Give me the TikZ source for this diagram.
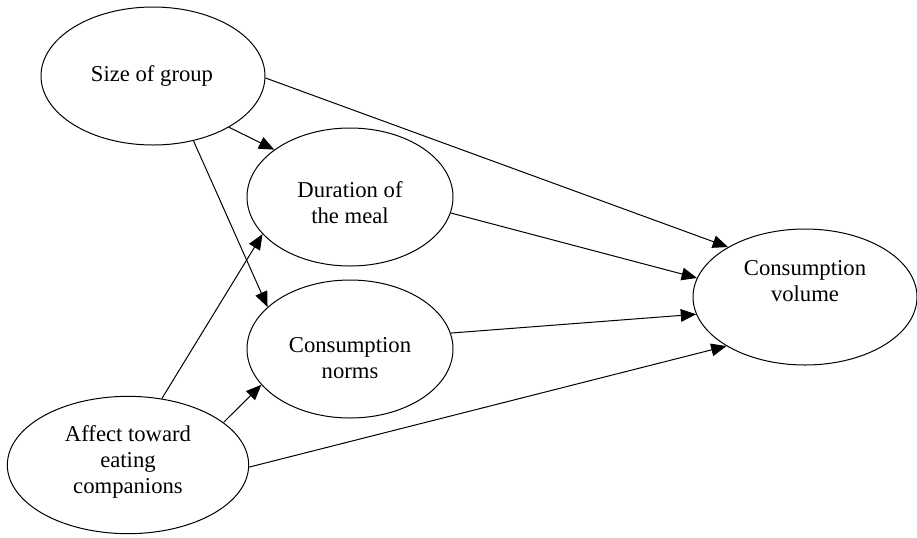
\documentclass[tikz,border=0pt]{standalone}
\usepackage{fontspec}
\setmainfont{Liberation Serif}
\usetikzlibrary{shapes.geometric,arrows.meta}

\begin{document}
\begin{tikzpicture}[x=0.75pt, y=-0.75pt,
        blob/.style={draw, ellipse, line width=0.75pt, inner sep=0pt},
        txt/.style={align=center, font=\fontsize{17}{19.5}\selectfont, inner sep=0pt},
        link/.style={line width=0.75pt, -{Triangle[length=11.5pt, width=9.5pt]}}]
        \useasboundingbox (0,0) rectangle (917,537);

        % ellipses
        \node [blob, minimum width=168pt, minimum height=103.5pt] (size) at (153,76) {};
        \node [blob, minimum width=154.5pt, minimum height=103.5pt] (duration) at (350,197) {};
        \node [blob, minimum width=154.5pt, minimum height=103.5pt] (norms) at (350,349) {};
        \node [blob, minimum width=181pt, minimum height=103pt] (affect) at (128,465) {};
        \node [blob, minimum width=168pt, minimum height=102pt] (volume) at (805,297) {};

        % texts
        \node [txt] (sizetext) at (152,76) {Size of group};
        \node [txt] (durationtext) at (350,203) {Duration of\\the meal};
        \node [txt] (normstext) at (350,358) {Consumption\\norms};
        \node [txt] (affecttext) at (128,462) {Affect toward\\eating\\companions};
        \node [txt] (volumetext) at (805,281) {Consumption\\volume};

        % paths
        \draw [link] (size.-34) -- (duration.148);
        \draw [link] (size.-58) -- (norms.153);
        \draw [link] (size.-1) -- (volume.147);
        \draw [link] (affect.63) -- (duration.203);
        \draw [link] (affect.24) -- (norms.202);
        \draw [link] (affect.-1) -- (volume.212);
        \draw [link] (duration.-9) -- (volume.170);
        \draw [link] (norms.9) -- (volume.189);
\end{tikzpicture}
\end{document}
